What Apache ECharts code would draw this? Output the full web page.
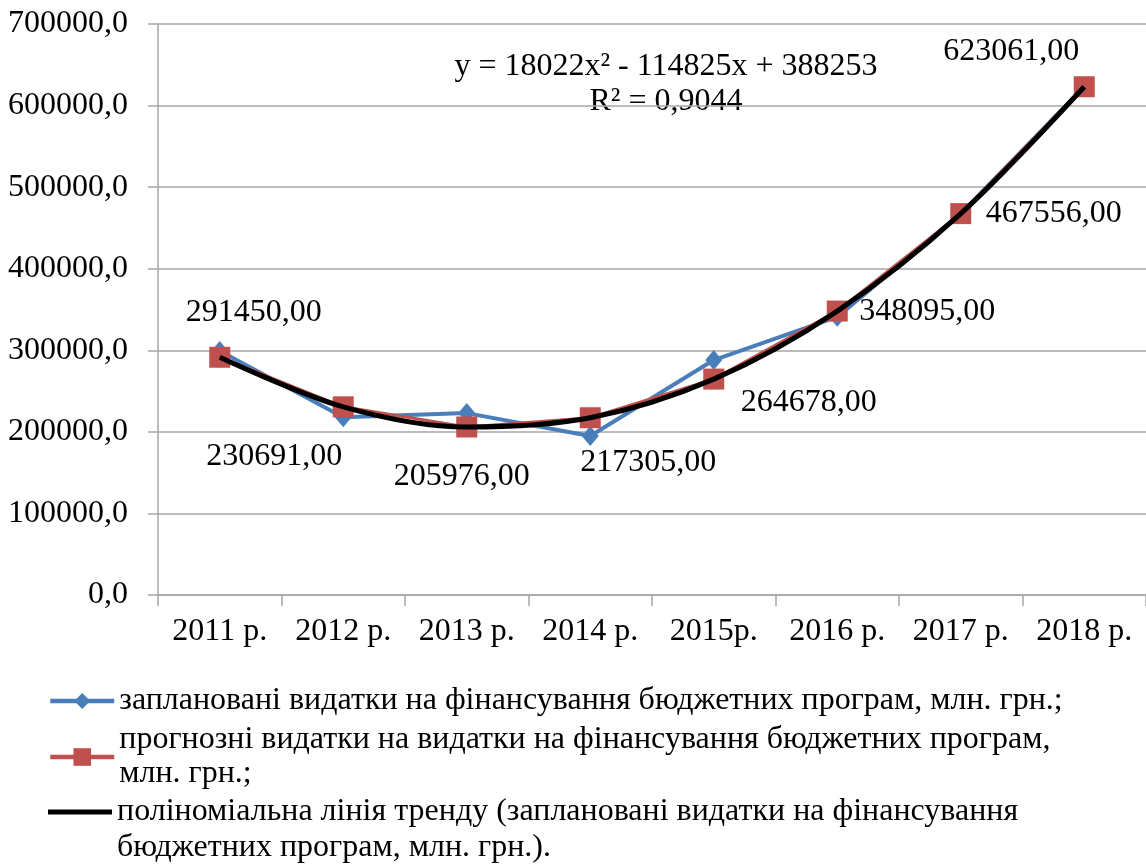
<!DOCTYPE html>
<html>
<head>
<meta charset="utf-8">
<style>
  html, body { margin: 0; padding: 0; background: #fff; }
  #chart { width: 1146px; height: 866px; }
</style>
<script src="https://cdn.jsdelivr.net/npm/echarts@6/dist/echarts.min.js"></script>
</head>
<body>
<div id="chart"></div>
<script>
// Budget programme spending, 2011–2018 (млн. грн.)
const categories = ['2011 р.', '2012 р.', '2013 р.', '2014 р.', '2015р.', '2016 р.', '2017 р.', '2018 р.'];
const planned = [299000, 218000, 223000, 195000, 288000, 341000, 467556, 623061];
const forecast = [291450, 230691, 205976, 217305, 264678, 348095, 467556, 623061];
const trend = [291450, 230691, 205976, 217305, 264678, 348095, 467556, 623061];

const seriesNames = [
  'заплановані видатки на фінансування бюджетних програм, млн. грн.;',
  'прогнозні видатки на видатки на фінансування бюджетних програм, млн. грн.;',
  'поліноміальна лінія тренду (заплановані видатки на фінансування бюджетних програм, млн. грн.).'
];
const equationText = 'y = 18022x² - 114825x + 388253\nR² = 0,9044';

const FONT = 'Liberation Serif';
const FS = 32;
const BLUE = '#4A7EBB';
const RED = '#C0504D';
const GRID = '#a6a6a6';

// where each value label sits relative to its marker
const labelOffsets = [[34, -45], [-69, 50], [-5, 50], [58, 45], [95, 23], [90, 1], [93, 0], [-73, -35]];

const chart = echarts.init(document.getElementById('chart'), null, { renderer: 'canvas' });

const legendText = { fontFamily: FONT, fontSize: FS, color: '#000', lineHeight: 34 };

chart.setOption({
  animation: false,
  backgroundColor: '#fff',
  textStyle: { fontFamily: FONT },
  grid: { left: 158, right: 0, top: 24, bottom: 271, containLabel: false },
  xAxis: {
    type: 'category',
    data: categories,
    boundaryGap: true,
    axisLine: { lineStyle: { color: GRID, width: 1.5 } },
    axisTick: { show: true, length: 11, lineStyle: { color: GRID, width: 1.5 } },
    axisLabel: { interval: 0, margin: 21, color: '#000', fontFamily: FONT, fontSize: FS }
  },
  yAxis: {
    type: 'value',
    min: 0,
    max: 700000,
    interval: 100000,
    axisLine: { show: true, lineStyle: { color: GRID, width: 1.5 } },
    axisTick: { show: true, length: 10, lineStyle: { color: GRID, width: 1.5 } },
    splitLine: { lineStyle: { color: GRID, width: 1.5 } },
    axisLabel: {
      margin: 30,
      color: '#000',
      fontFamily: FONT,
      fontSize: FS,
      formatter: v => v.toFixed(1).replace('.', ',')
    }
  },
  legend: [
    {
      left: 48, top: 684, padding: 0, selectedMode: false,
      itemWidth: 64, itemHeight: 20,
      lineStyle: { width: 4.5 },
      data: [seriesNames[0]],
      textStyle: legendText
    },
    {
      left: 48, top: 723, padding: 0, selectedMode: false,
      itemWidth: 64, itemHeight: 22,
      lineStyle: { width: 4.5 },
      data: [seriesNames[1]],
      formatter: n => n.replace(' млн. грн.;', '\nмлн. грн.;'),
      textStyle: legendText
    },
    {
      left: 48, top: 795, padding: 0, selectedMode: false,
      itemWidth: 64, itemHeight: 5,
      data: [{ name: seriesNames[2], icon: 'rect' }],
      formatter: n => n.split(' бюджетних')[0],
      textStyle: legendText
    }
  ],
  graphic: [
    {
      type: 'text',
      x: 117, y: 832,
      style: { text: 'бюджетних програм, млн. грн.).', font: FS + 'px "' + FONT + '"', fill: '#000' }
    },
    {
      type: 'text',
      x: 666, y: 49,
      style: {
        text: equationText,
        font: FS + 'px "' + FONT + '"',
        fill: '#000',
        textAlign: 'center',
        lineHeight: 35
      }
    }
  ],
  series: [
    {
      name: seriesNames[0],
      type: 'line',
      data: planned,
      symbol: 'diamond',
      symbolSize: [17, 20],
      lineStyle: { color: BLUE, width: 4 },
      itemStyle: { color: BLUE },
      z: 2
    },
    {
      name: seriesNames[1],
      type: 'line',
      data: forecast.map((v, i) => ({
        value: v,
        label: { offset: labelOffsets[i] }
      })),
      symbol: 'rect',
      symbolSize: 21,
      lineStyle: { color: RED, width: 3 },
      itemStyle: { color: RED },
      label: {
        show: true,
        position: 'inside',
        color: '#000',
        fontFamily: FONT,
        fontSize: FS,
        formatter: p => p.value.toFixed(2).replace('.', ',')
      },
      z: 3
    },
    {
      name: seriesNames[2],
      type: 'line',
      data: trend,
      smooth: 0.33,
      symbol: 'none',
      lineStyle: { color: '#000', width: 5 },
      itemStyle: { color: '#000' },
      z: 4
    }
  ]
});
</script>
</body>
</html>
